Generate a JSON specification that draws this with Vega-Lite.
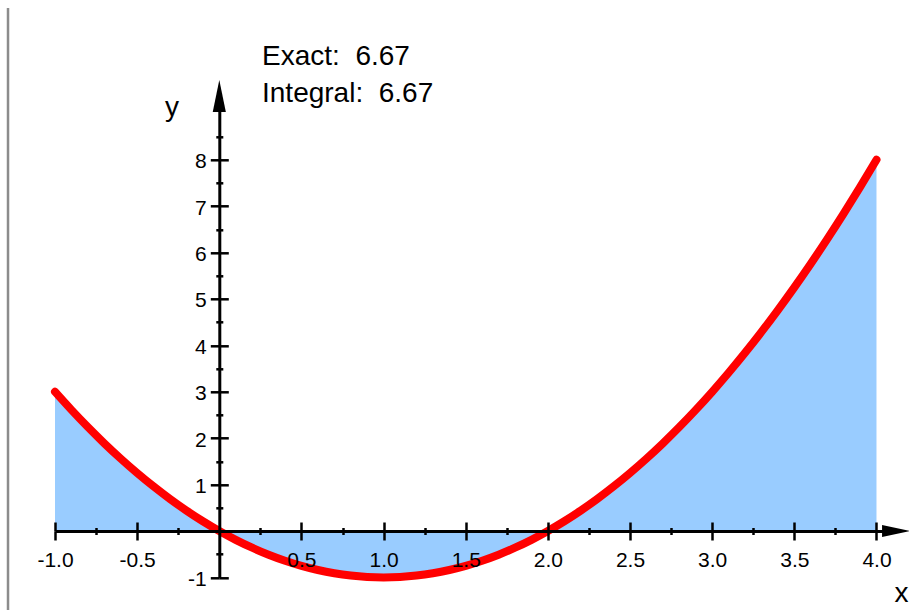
{
  "$schema": "https://vega.github.io/schema/vega-lite/v6.json",
  "width": 841.2,
  "height": 482.6,
  "padding": {"left": 55, "top": 94.8, "right": 12.8, "bottom": 32.6},
  "autosize": {"type": "none"},
  "background": "white",
  "config": {
    "view": {"stroke": null},
    "font": "Liberation Sans"
  },
  "datasets": {
    "curve": [
      {"x": -1.0, "y": 3.0}, {"x": -0.9, "y": 2.61}, {"x": -0.8, "y": 2.24}, {"x": -0.7, "y": 1.89},
      {"x": -0.6, "y": 1.56}, {"x": -0.5, "y": 1.25}, {"x": -0.4, "y": 0.96}, {"x": -0.3, "y": 0.69},
      {"x": -0.2, "y": 0.44}, {"x": -0.1, "y": 0.21}, {"x": 0.0, "y": 0.0}, {"x": 0.1, "y": -0.19},
      {"x": 0.2, "y": -0.36}, {"x": 0.3, "y": -0.51}, {"x": 0.4, "y": -0.64}, {"x": 0.5, "y": -0.75},
      {"x": 0.6, "y": -0.84}, {"x": 0.7, "y": -0.91}, {"x": 0.8, "y": -0.96}, {"x": 0.9, "y": -0.99},
      {"x": 1.0, "y": -1.0}, {"x": 1.1, "y": -0.99}, {"x": 1.2, "y": -0.96}, {"x": 1.3, "y": -0.91},
      {"x": 1.4, "y": -0.84}, {"x": 1.5, "y": -0.75}, {"x": 1.6, "y": -0.64}, {"x": 1.7, "y": -0.51},
      {"x": 1.8, "y": -0.36}, {"x": 1.9, "y": -0.19}, {"x": 2.0, "y": 0.0}, {"x": 2.1, "y": 0.21},
      {"x": 2.2, "y": 0.44}, {"x": 2.3, "y": 0.69}, {"x": 2.4, "y": 0.96}, {"x": 2.5, "y": 1.25},
      {"x": 2.6, "y": 1.56}, {"x": 2.7, "y": 1.89}, {"x": 2.8, "y": 2.24}, {"x": 2.9, "y": 2.61},
      {"x": 3.0, "y": 3.0}, {"x": 3.1, "y": 3.41}, {"x": 3.2, "y": 3.84}, {"x": 3.3, "y": 4.29},
      {"x": 3.4, "y": 4.76}, {"x": 3.5, "y": 5.25}, {"x": 3.6, "y": 5.76}, {"x": 3.7, "y": 6.29},
      {"x": 3.8, "y": 6.84}, {"x": 3.9, "y": 7.41}, {"x": 4.0, "y": 8.0}
    ],
    "notes": [
      {"x": 0.26, "y": 10.04, "label": "Exact:\u00a0 6.67"},
      {"x": 0.26, "y": 9.25, "label": "Integral:\u00a0 6.67"}
    ],
    "titles": [
      {"x": -0.288, "y": 8.94, "label": "y"},
      {"x": 4.153, "y": -1.524, "label": "x"}
    ],
    "arrows": [
      {"x": 4.119, "y": 0, "dir": "right"},
      {"x": 0, "y": 9.375, "dir": "up"}
    ],
    "frame": [
      {"x": -1.286, "ytop": 11.27, "ybottom": -1.72}
    ]
  },
  "layer": [
    {
      "data": {"name": "curve"},
      "mark": {"type": "area", "color": "#99CCFF", "interpolate": "monotone"},
      "encoding": {
        "x": {"field": "x", "type": "quantitative",
          "scale": {"domain": [-1, 4.12], "nice": false, "zero": false},
          "axis": {"orient": "bottom", "offset": -46.4, "values": [-1, -0.5, 0.5, 1, 1.5, 2, 2.5, 3, 3.5, 4],
            "format": ".1f", "labelExpr": "replace(datum.label, '\u2212', '-')",
            "tickSize": 9, "tickWidth": 2.5, "tickColor": "black", "labelPadding": 9,
            "labelFont": "Liberation Sans", "labelFontSize": 21, "labelColor": "black",
            "labelFlush": false, "labelOverlap": false, "labelBound": false,
            "domain": true, "domainWidth": 3, "domainColor": "black", "grid": false, "title": null, "zindex": 2}},
        "y": {"field": "y", "type": "quantitative",
          "scale": {"domain": [-1, 9.4], "nice": false, "zero": false},
          "axis": {"orient": "left", "offset": -164.3, "values": [-1, 1, 2, 3, 4, 5, 6, 7, 8],
            "format": "d", "labelExpr": "replace(datum.label, '\u2212', '-')",
            "tickSize": 9, "tickWidth": 2.5, "tickColor": "black", "labelPadding": 4, "labelOffset": 2,
            "labelFont": "Liberation Sans", "labelFontSize": 21, "labelColor": "black",
            "labelFlush": false, "labelOverlap": false, "labelBound": false,
            "domain": true, "domainWidth": 3, "domainColor": "black", "grid": false, "title": null, "zindex": 2}},
        "y2": {"datum": 0}
      }
    },
    {
      "data": {"name": "curve"},
      "mark": {"type": "line", "color": "#FF0000", "strokeWidth": 8, "strokeCap": "round", "interpolate": "monotone"},
      "encoding": {
        "x": {"field": "x", "type": "quantitative",
          "scale": {"domain": [-1, 4.12], "nice": false, "zero": false},
          "axis": {"orient": "top", "offset": -436.2, "values": [-1, -0.5, 0.5, 1, 1.5, 2, 2.5, 3, 3.5, 4],
            "tickSize": 9, "tickWidth": 2.5, "tickColor": "black", "labels": false, "domain": false,
            "grid": false, "title": null, "zindex": 2}},
        "y": {"field": "y", "type": "quantitative",
          "scale": {"domain": [-1, 9.4], "nice": false, "zero": false},
          "axis": {"orient": "right", "offset": -676.9, "values": [-1, 1, 2, 3, 4, 5, 6, 7, 8],
            "tickSize": 9, "tickWidth": 2.5, "tickColor": "black", "labels": false, "domain": false,
            "grid": false, "title": null, "zindex": 2}}
      }
    },
    {
      "data": {"name": "frame"},
      "mark": {"type": "rule", "color": "#8c8c8c", "strokeWidth": 2.5},
      "encoding": {
        "x": {"field": "x", "type": "quantitative",
          "scale": {"domain": [-1, 4.12], "nice": false, "zero": false},
          "axis": {"orient": "bottom", "offset": -46.4,
            "values": [-0.75, -0.25, 0.25, 0.75, 1.25, 1.75, 2.25, 2.75, 3.25, 3.75],
            "tickSize": 3.5, "tickWidth": 2.5, "tickColor": "black", "labels": false, "domain": false,
            "grid": false, "title": null, "zindex": 2}},
        "y": {"field": "ytop", "type": "quantitative",
          "scale": {"domain": [-1, 9.4], "nice": false, "zero": false},
          "axis": {"orient": "left", "offset": -164.3,
            "values": [-0.5, 0.5, 1.5, 2.5, 3.5, 4.5, 5.5, 6.5, 7.5, 8.5],
            "tickSize": 3.5, "tickWidth": 2.5, "tickColor": "black", "labels": false, "domain": false,
            "grid": false, "title": null, "zindex": 2}},
        "y2": {"field": "ybottom"}
      }
    },
    {
      "data": {"name": "notes"},
      "mark": {"type": "text", "align": "left", "baseline": "alphabetic", "fontSize": 28, "font": "Liberation Sans", "color": "black"},
      "encoding": {
        "x": {"field": "x", "type": "quantitative",
          "scale": {"domain": [-1, 4.12], "nice": false, "zero": false},
          "axis": {"orient": "top", "offset": -436.2,
            "values": [-0.75, -0.25, 0.25, 0.75, 1.25, 1.75, 2.25, 2.75, 3.25, 3.75],
            "tickSize": 3.5, "tickWidth": 2.5, "tickColor": "black", "labels": false, "domain": false,
            "grid": false, "title": null, "zindex": 2}},
        "y": {"field": "y", "type": "quantitative",
          "scale": {"domain": [-1, 9.4], "nice": false, "zero": false},
          "axis": {"orient": "right", "offset": -676.9,
            "values": [-0.5, 0.5, 1.5, 2.5, 3.5, 4.5, 5.5, 6.5, 7.5, 8.5],
            "tickSize": 3.5, "tickWidth": 2.5, "tickColor": "black", "labels": false, "domain": false,
            "grid": false, "title": null, "zindex": 2}},
        "text": {"field": "label"}
      }
    },
    {
      "data": {"name": "titles"},
      "mark": {"type": "text", "align": "center", "baseline": "alphabetic", "fontSize": 28, "font": "Liberation Sans", "color": "black"},
      "encoding": {
        "x": {"field": "x", "type": "quantitative", "scale": {"domain": [-1, 4.12], "nice": false, "zero": false}, "axis": null},
        "y": {"field": "y", "type": "quantitative", "scale": {"domain": [-1, 9.4], "nice": false, "zero": false}, "axis": null},
        "text": {"field": "label"}
      }
    },
    {
      "data": {"name": "arrows"},
      "mark": {"type": "point", "filled": true, "color": "black", "opacity": 1, "size": 1024, "strokeWidth": 0},
      "encoding": {
        "x": {"field": "x", "type": "quantitative", "scale": {"domain": [-1, 4.12], "nice": false, "zero": false}, "axis": null},
        "y": {"field": "y", "type": "quantitative", "scale": {"domain": [-1, 9.4], "nice": false, "zero": false}, "axis": null},
        "shape": {"field": "dir", "type": "nominal", "legend": null,
          "scale": {"domain": ["right", "up"],
            "range": ["M -0.875 -0.375 L 0.875 0 L -0.875 0.375 Z", "M -0.41 1 L 0 -1 L 0.41 1 Z"]}}
      }
    }
  ],
  "resolve": {"axis": {"x": "independent", "y": "independent"}}
}
